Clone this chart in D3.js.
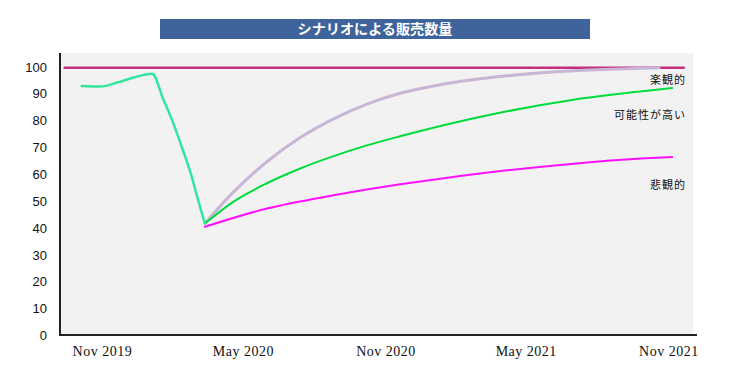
<!DOCTYPE html>
<html>
<head>
<meta charset="utf-8">
<title>シナリオによる販売数量</title>
<script src="https://d3js.org/d3.v7.min.js"></script>
<style>
  body { margin: 0; background: #fff; }
  .axis path, .axis line { display: none; }
  .axis--y text { font: 13px 'Liberation Sans', Arial, sans-serif; fill: #111; }
  .axis--x text { font: 14px 'Liberation Serif', 'Times New Roman', serif; fill: #111; letter-spacing: 0.5px; }
  .line { fill: none; stroke-linecap: round; stroke-linejoin: round; }
  .series-label { font: 11px 'Noto Sans CJK JP', sans-serif; fill: #111; letter-spacing: 1px; }
</style>
</head>
<body>
<svg width="750" height="375" id="chart"></svg>
<script>
// values
const chartTitle = 'シナリオによる販売数量';
const yTicks = [0, 10, 20, 30, 40, 50, 60, 70, 80, 90, 100];
const xTicks = ['2019-11-01', '2020-05-01', '2020-11-01', '2021-05-01', '2021-11-01'];

const targetLine = [
  ['2019-09-14', 99.5], ['2021-11-21', 99.5]
];
const actual = [
  ['2019-10-06', 92.7], ['2019-10-30', 92.5], ['2019-11-21', 94.0], ['2019-12-11', 95.8],
  ['2020-01-05', 97.3], ['2020-01-19', 88.0], ['2020-02-01', 79.0], ['2020-02-14', 68.5],
  ['2020-02-25', 59.0], ['2020-03-04', 50.5], ['2020-03-13', 41.6]
];
const optimistic = [
  ['2020-03-13', 41.5], ['2020-04-18', 53.0], ['2020-06-01', 64.5], ['2020-07-14', 73.5],
  ['2020-08-26', 80.5], ['2020-10-08', 86.0], ['2020-11-20', 90.0], ['2021-01-11', 93.2],
  ['2021-04-07', 96.5], ['2021-07-02', 98.4], ['2021-09-26', 99.3], ['2021-10-20', 99.5]
];
const likely = [
  ['2020-03-13', 41.5], ['2020-04-18', 49.5], ['2020-06-01', 56.5], ['2020-07-14', 62.0],
  ['2020-08-26', 66.6], ['2020-10-08', 70.6], ['2020-11-20', 74.0], ['2021-01-11', 77.8],
  ['2021-04-07', 83.3], ['2021-07-02', 87.6], ['2021-09-26', 90.7], ['2021-11-06', 92.0]
];
const pessimistic = [
  ['2020-03-13', 40.3], ['2020-06-01', 47.1], ['2020-08-26', 52.0], ['2020-11-20', 56.1],
  ['2021-01-11', 58.2], ['2021-04-07', 61.3], ['2021-07-02', 63.8], ['2021-09-26', 65.7],
  ['2021-11-06', 66.3]
];
const seriesLabels = [
  { text: '楽観的', value: 94.8 },
  { text: '可能性が高い', value: 81.8 },
  { text: '悲観的', value: 55.8 }
];

const parseDate = d3.timeParse('%Y-%m-%d');
const fmt = d3.timeFormat('%b %Y');

const svg = d3.select('svg#chart');
const margin = { left: 60, right: 53, top: 53, bottom: 40 };
const width = +svg.attr('width') - margin.left - margin.right;
const height = +svg.attr('height') - margin.top - margin.bottom;

const x = d3.scaleTime()
  .domain([parseDate('2019-09-08'), parseDate('2021-12-08')])
  .range([margin.left, margin.left + width]);
const y = d3.scaleLinear()
  .domain([0, 105])
  .range([margin.top + height, margin.top]);

// title box
svg.append('rect')
  .attr('x', 160).attr('y', 19).attr('width', 430).attr('height', 20)
  .attr('fill', '#3e649b');
svg.append('text')
  .attr('x', 375).attr('y', 29).attr('dy', '0.36em')
  .attr('text-anchor', 'middle')
  .attr('textLength', 155)
  .attr('lengthAdjust', 'spacingAndGlyphs')
  .style('font', "bold 14px 'Noto Sans CJK JP', sans-serif")
  .attr('fill', '#fff')
  .text(chartTitle);

// plot background
svg.append('rect')
  .attr('x', margin.left).attr('y', margin.top)
  .attr('width', x(parseDate('2021-12-03')) - margin.left).attr('height', height)
  .attr('fill', '#f2f2f2');

// axes
svg.append('g')
  .attr('class', 'axis axis--y')
  .attr('transform', 'translate(' + (margin.left - 13) + ',0)')
  .call(d3.axisLeft(y).tickValues(yTicks).tickSize(0).tickPadding(0))
  .selectAll('text').attr('dy', '0.36em');

svg.append('g')
  .attr('class', 'axis axis--x')
  .attr('transform', 'translate(0,' + (margin.top + height + 11) + ')')
  .call(d3.axisBottom(x).tickValues(xTicks.map(parseDate)).tickFormat(fmt).tickSize(0).tickPadding(0))
  .selectAll('text').attr('dy', '0.71em');

svg.append('line')
  .attr('x1', margin.left).attr('x2', margin.left)
  .attr('y1', margin.top).attr('y2', margin.top + height + 1)
  .attr('stroke', '#222').attr('stroke-width', 2);
svg.append('line')
  .attr('x1', margin.left).attr('x2', margin.left + width)
  .attr('y1', margin.top + height).attr('y2', margin.top + height)
  .attr('stroke', '#222').attr('stroke-width', 2);

// lines
const line = d3.line()
  .x(d => x(parseDate(d[0])))
  .y(d => y(d[1]))
  .curve(d3.curveMonotoneX);

const series = [
  { data: targetLine, color: '#c4307c', w: 2.5 },
  { data: optimistic, color: '#c9b5d5', w: 3 },
  { data: likely, color: '#00dc3a', w: 2 },
  { data: pessimistic, color: '#ff10ff', w: 2 },
  { data: actual, color: '#33e59e', w: 2.5 }
];
series.forEach(s => {
  svg.append('path')
    .datum(s.data)
    .attr('class', 'line')
    .attr('stroke', s.color)
    .attr('stroke-width', s.w)
    .attr('d', line);
});

svg.selectAll('.series-label')
  .data(seriesLabels)
  .enter().append('text')
  .attr('class', 'series-label')
  .attr('x', 686)
  .attr('y', d => y(d.value))
  .attr('dy', '0.36em')
  .attr('text-anchor', 'end')
  .text(d => d.text);
</script>
</body>
</html>
